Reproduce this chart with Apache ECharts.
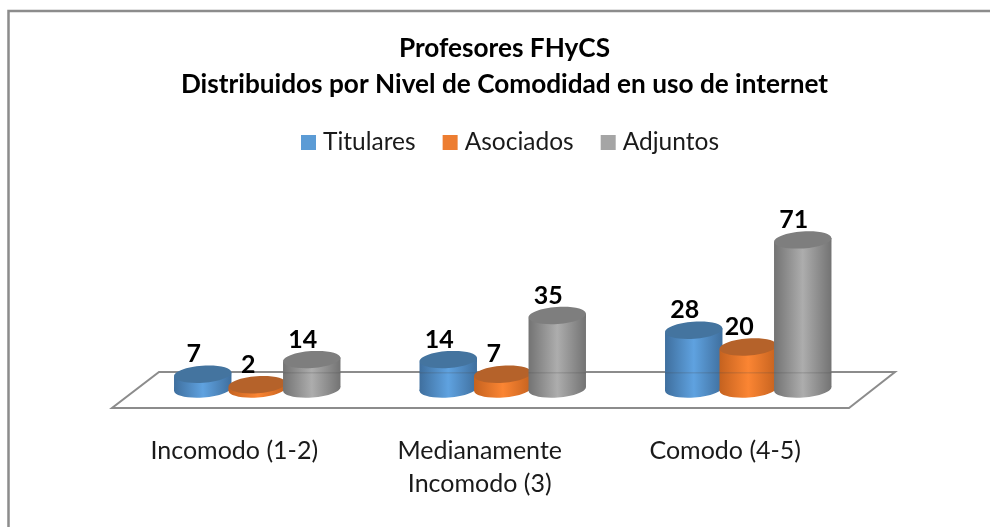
<!DOCTYPE html>
<html><head><meta charset="utf-8">
<style>html,body{margin:0;padding:0;background:#fff}#c{width:990px;height:527px}</style>
<script src="https://cdn.jsdelivr.net/npm/echarts@6/dist/echarts.min.js"></script>
</head><body><div id="c"></div>
<script>
const categories = ['Incomodo (1-2)', 'Medianamente\nIncomodo (3)', 'Comodo (4-5)'];
const titulares = [7, 14, 28];
const asociados = [2, 7, 20];
const adjuntos = [14, 35, 71];

const palette = [
  {name:'Titulares', legend:'#5b9bd5', edge:'#3f6f9e', mid:'#5fa2e0', top:'#44749f'},
  {name:'Asociados', legend:'#ed7d31', edge:'#c5621f', mid:'#fb8533', top:'#b5622a'},
  {name:'Adjuntos',  legend:'#a5a5a5', edge:'#737373', mid:'#adadad', top:'#7e7e7e'}
];
const seriesValues = [titulares, asociados, adjuntos];
const FONT = 'Lato, "Open Sans", sans-serif';

function cylinder(idx){
  const p = palette[idx];
  return function(params, api){
    const band = api.size([1,0])[0];
    const base = api.coord([api.value(0), 0]);
    const top = api.coord([api.value(0), api.value(1)]);
    const cx = base[0] + (idx-1)*band*0.222;
    const rx = band*0.117, ry = 8.5, rot = 0.07;
    const fill = {type:'linear',x:0,y:0,x2:1,y2:0,colorStops:[
      {offset:0,color:p.edge},{offset:0.5,color:p.mid},{offset:1,color:p.edge}]};
    const tiltY = rx*Math.sin(rot);
    return {type:'group',children:[
      {type:'ellipse',shape:{cx:cx,cy:base[1],rx:rx,ry:ry},rotation:rot,originX:cx,originY:base[1],style:{fill:fill}},
      {type:'polygon',shape:{points:[[cx-rx,top[1]+tiltY],[cx+rx,top[1]-tiltY],[cx+rx,base[1]-tiltY],[cx-rx,base[1]+tiltY]]},style:{fill:fill}},
      {type:'ellipse',shape:{cx:cx,cy:top[1],rx:rx,ry:ry},rotation:rot,originX:cx,originY:top[1],style:{fill:p.top}},
      {type:'rect',shape:{x:cx-rx,y:base[1]-17,width:rx*2,height:1.5},style:{fill:'rgba(70,70,70,0.18)'},
        invisible: top[1] > base[1]-19},
      {type:'text',x:cx-9,y:top[1]-20,style:{text:String(api.value(1)),font:'bold 25px '+FONT,fill:'#000',align:'center',verticalAlign:'middle'}}
    ]};
  };
}

function floorItem(params, api){
  const band = api.size([1,0])[0];
  const o = api.coord([0,0]);
  const l = o[0]-band/2, r = l+band*3, y = o[1];
  return {type:'polygon',shape:{points:[[l+24.5,y-17],[r+24,y-17],[r-22,y+19],[l-22.5,y+19]]},
    style:{fill:'#fff',stroke:'#8c8c8c',lineWidth:2}};
}

const series = [{type:'custom',name:'floor',silent:true,data:[[0,0]],encode:{x:0,y:1},renderItem:floorItem,z:1}];
palette.forEach(function(p,i){
  series.push({type:'custom',name:p.name,itemStyle:{color:p.legend},z:2+i,encode:{x:0,y:1},
    data:categories.map(function(c,k){return [k,seriesValues[i][k]];}),renderItem:cylinder(i)});
});

const chart = echarts.init(document.getElementById('c'));
chart.setOption({
  animation:false,
  backgroundColor:'#fff',
  graphic:[{type:'polyline',shape:{points:[[8.5,530],[8.5,11],[992,11]]},style:{fill:'none',stroke:'#8c8c8c',lineWidth:2.5},z:0}],
  title:{left:499.5,textAlign:'center',top:26,text:'Profesores FHyCS\nDistribuidos por Nivel de Comodidad en uso de internet',
    textStyle:{fontFamily:'Lato',fontWeight:'bold',fontSize:26.2,lineHeight:36,color:'#000'}},
  legend:{left:296,top:125,icon:'rect',itemWidth:15,itemHeight:15,itemGap:27,
    data:palette.map(function(p){return p.name;}),
    textStyle:{fontFamily:'Lato',fontSize:24.5,color:'#1a1a1a',padding:[0,0,0,2]}},
  grid:{left:134.5,right:119,top:221,bottom:138},
  xAxis:{type:'category',data:categories,axisLine:{show:false},axisTick:{show:false},
    axisLabel:{margin:45,fontFamily:'Lato',fontSize:25,lineHeight:33,color:'#1a1a1a',interval:0,padding:[0,46,0,0]}},
  yAxis:{type:'value',min:0,max:80,interval:20,show:false},
  series:series
});
</script></body></html>
